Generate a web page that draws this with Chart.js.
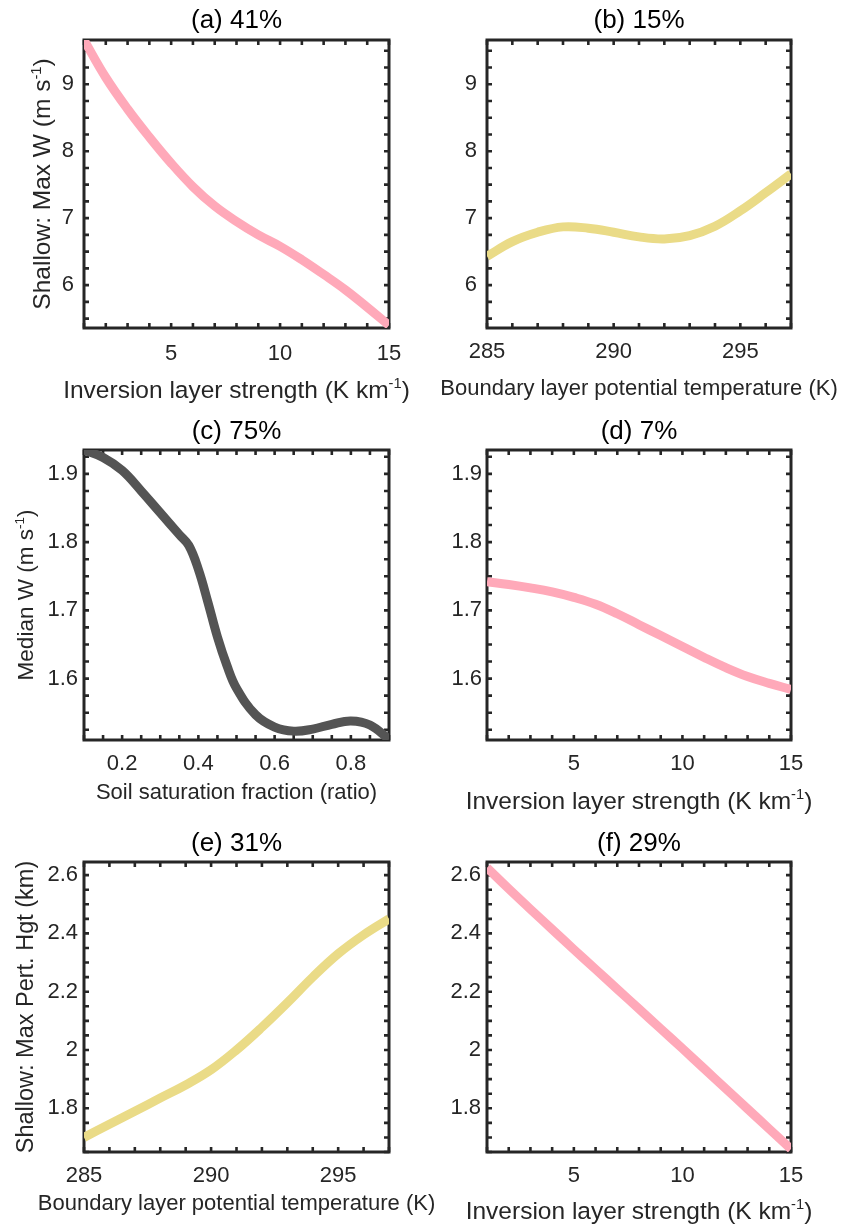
<!DOCTYPE html>
<html>
<head>
<meta charset="utf-8">
<script src="https://cdn.jsdelivr.net/npm/chart.js@4.4.1/dist/chart.umd.min.js"></script>
<style>
  body { margin: 0; background: #fff; }
  #wrap { position: relative; width: 845px; height: 1224px; overflow: hidden; }
  canvas { position: absolute; }
</style>
</head>
<body>
<div id="wrap">
  <canvas id="pa" width="445" height="410" style="left:0;top:0"></canvas>
  <canvas id="pb" width="425" height="410" style="left:420px;top:0"></canvas>
  <canvas id="pc" width="445" height="410" style="left:0;top:410px"></canvas>
  <canvas id="pd" width="425" height="410" style="left:420px;top:410px"></canvas>
  <canvas id="pe" width="445" height="404" style="left:0;top:820px"></canvas>
  <canvas id="pf" width="425" height="404" style="left:420px;top:820px"></canvas>
</div>
<script>
// x values
const inversion = [1, 2, 3, 4, 5, 6, 7, 8, 9, 10, 11, 12, 13, 14, 15];
const thetaBL = [285, 286, 287, 288, 289, 290, 291, 292, 293, 294, 295, 296, 297];
const soilSat = [0.1, 0.15, 0.2, 0.25, 0.3, 0.35, 0.375, 0.4, 0.425, 0.45, 0.475, 0.5, 0.55, 0.6, 0.65, 0.7, 0.75, 0.8, 0.85, 0.9];

// series
const maxW_inv = [9.66, 9.10, 8.63, 8.21, 7.82, 7.47, 7.18, 6.95, 6.75, 6.58, 6.38, 6.16, 5.93, 5.67, 5.40];
const maxW_theta = [6.43, 6.65, 6.79, 6.87, 6.85, 6.79, 6.72, 6.69, 6.74, 6.88, 7.11, 7.38, 7.66];
const medW_soil = [1.935, 1.924, 1.905, 1.875, 1.843, 1.811, 1.795, 1.760, 1.712, 1.661, 1.619, 1.586, 1.547, 1.529, 1.523, 1.526, 1.533, 1.538, 1.532, 1.511];
const medW_inv = [1.742, 1.738, 1.733, 1.727, 1.719, 1.709, 1.695, 1.679, 1.663, 1.647, 1.631, 1.616, 1.603, 1.593, 1.584];
const hgt_theta = [1.70, 1.745, 1.79, 1.835, 1.88, 1.932, 2.00, 2.078, 2.162, 2.25, 2.33, 2.395, 2.45];
const hgt_inv = [2.625, 2.553, 2.483, 2.414, 2.345, 2.277, 2.209, 2.141, 2.073, 2.005, 1.936, 1.867, 1.798, 1.729, 1.660];

// tick labels
const invTicks = [5, 10, 15];
const thetaTicks = [285, 290, 295];
const soilTicks = [0.2, 0.4, 0.6, 0.8];
const maxWTicks = [6, 7, 8, 9];
const medWTicks = [1.6, 1.7, 1.8, 1.9];
const hgtTicks = [1.8, 2, 2.2, 2.4, 2.6];

const titles = ['(a) 41%', '(b) 15%', '(c) 75%', '(d) 7%', '(e) 31%', '(f) 29%'];
const invLabel = 'Inversion layer strength (K km^{-1})';
const thetaLabel = 'Boundary layer potential temperature (K)';
const soilLabel = 'Soil saturation fraction (ratio)';

const PINK = '#FFA9B9';
const YELLOW = '#EADB87';
const GREY = '#545454';
const INK = '#262626';
const FONT = '"Liberation Sans", Arial, Helvetica, sans-serif';

// box around the axes with inward minor ticks
const boxPlugin = {
  id: 'box',
  beforeDatasetsDraw(chart, args, opts) {
    const { ctx, chartArea: a, scales } = chart;
    ctx.save();
    ctx.strokeStyle = INK;
    ctx.lineWidth = 2.6;
    const tick = (scale, step, len, horiz) => {
      const start = Math.ceil(scale.min / step - 1e-6) * step;
      for (let v = start; v <= scale.max + 1e-9; v += step) {
        const p = scale.getPixelForValue(v);
        ctx.beginPath();
        if (horiz) {
          ctx.moveTo(p, a.bottom); ctx.lineTo(p, a.bottom - len);
          ctx.moveTo(p, a.top); ctx.lineTo(p, a.top + len);
        } else {
          ctx.moveTo(a.left, p); ctx.lineTo(a.left + len, p);
          ctx.moveTo(a.right, p); ctx.lineTo(a.right - len, p);
        }
        ctx.stroke();
      }
    };
    tick(scales.x, opts.xMinor, 5, true);
    tick(scales.y, opts.yMinor, 5, false);
    ctx.lineWidth = 3;
    ctx.strokeRect(a.left, a.top, a.right - a.left, a.bottom - a.top);
    ctx.restore();
  }
};

// text with ^{...} superscripts, centred on (cx, cy)
function drawRich(ctx, text, cx, cy, size, rot) {
  const parts = text.split(/\^\{([^}]*)\}/);
  const fN = size + 'px ' + FONT, fS = (size * 0.6) + 'px ' + FONT;
  let total = 0;
  parts.forEach((t, i) => { ctx.font = i % 2 ? fS : fN; total += ctx.measureText(t).width; });
  ctx.save();
  ctx.translate(cx, cy);
  ctx.rotate(rot);
  ctx.textAlign = 'left';
  ctx.textBaseline = 'alphabetic';
  let x = -total / 2;
  const base = size * 0.36;
  parts.forEach((t, i) => {
    ctx.font = i % 2 ? fS : fN;
    ctx.fillText(t, x, i % 2 ? base - size * 0.4 : base);
    x += ctx.measureText(t).width;
  });
  ctx.restore();
}

const labelPlugin = {
  id: 'axisLabels',
  afterDraw(chart, args, o) {
    const { ctx, chartArea: a } = chart;
    ctx.save();
    ctx.fillStyle = INK;
    if (o.xText) drawRich(ctx, o.xText, (a.left + a.right) / 2, chart.height - o.xOff, o.xSize, 0);
    if (o.yText) drawRich(ctx, o.yText, o.yPos, (a.top + a.bottom) / 2, o.ySize, -Math.PI / 2);
    ctx.restore();
  }
};

function makePanel(id, p) {
  const canvas = document.getElementById(id);
  const W = canvas.width, H = canvas.height;
  const fmt = v => String(Math.round(v * 1000) / 1000);
  return new Chart(canvas, {
    type: 'line',
    data: {
      datasets: [{
        data: p.x.map((v, i) => ({ x: v, y: p.y[i] })),
        borderColor: p.color,
        borderWidth: 9,
        pointRadius: 0,
        tension: 0.4,
        borderJoinStyle: 'round',
        fill: false
      }]
    },
    options: {
      responsive: false,
      animation: false,
      events: [],
      layout: { padding: { left: 0, top: 0, bottom: 0, right: W - p.area.right } },
      plugins: {
        legend: { display: false },
        tooltip: { enabled: false },
        title: {
          display: true,
          text: p.title,
          fullSize: false,
          color: '#000',
          font: { family: FONT, size: 26, weight: 'normal', lineHeight: 1.2 },
          padding: { top: p.titleY - 15.6, bottom: p.area.top - p.titleY - 15.6 }
        },
        box: { xMinor: p.xMinor, yMinor: p.yMinor },
        axisLabels: { xText: p.xLabel, xSize: p.xLabelSize, xOff: p.xLabelOff, yText: p.yLabel, ySize: p.yLabelSize, yPos: p.yLabelX }
      },
      scales: {
        x: {
          type: 'linear',
          min: p.xMin, max: p.xMax,
          afterBuildTicks: s => { s.ticks = p.xTicks.map(v => ({ value: v })); },
          afterFit: s => { s.height = H - p.area.bottom; },
          grid: { display: false, drawTicks: false },
          border: { display: false },
          ticks: { padding: p.xPad, color: INK, font: { family: FONT, size: 22 }, maxRotation: 0, autoSkip: false, callback: fmt }
        },
        y: {
          type: 'linear',
          min: p.yMin, max: p.yMax,
          afterBuildTicks: s => { s.ticks = p.yTicks.map(v => ({ value: v })); },
          afterFit: s => { s.width = p.area.left; },
          grid: { display: false, drawTicks: false },
          border: { display: false },
          ticks: { padding: p.yPad, color: INK, font: { family: FONT, size: 22 }, autoSkip: false, callback: fmt }
        }
      }
    },
    plugins: [boxPlugin, labelPlugin]
  });
}

const colL = { left: 84, right: 389 };
const colR = { left: 487 - 420, right: 791 - 420 };

makePanel('pa', {
  x: inversion, y: maxW_inv, color: PINK, title: titles[0], titleY: 21,
  area: { ...colL, top: 40, bottom: 328 },
  xMin: 1, xMax: 15, xTicks: invTicks, xMinor: 1, xPad: 13,
  yMin: 5.36, yMax: 9.66, yTicks: maxWTicks, yMinor: 0.25, yPad: 10,
  xLabel: invLabel, xLabelSize: 24.5, xLabelOff: 21,
  yLabel: 'Shallow: Max W (m s^{-1})', yLabelSize: 24.5, yLabelX: 41.5
});
makePanel('pb', {
  x: thetaBL, y: maxW_theta, color: YELLOW, title: titles[1], titleY: 21,
  area: { ...colR, top: 40, bottom: 328 },
  xMin: 285, xMax: 297, xTicks: thetaTicks, xMinor: 1, xPad: 11,
  yMin: 5.36, yMax: 9.66, yTicks: maxWTicks, yMinor: 0.25, yPad: 10,
  xLabel: thetaLabel, xLabelSize: 22, xLabelOff: 23
});
makePanel('pc', {
  x: soilSat, y: medW_soil, color: GREY, title: titles[2], titleY: 22,
  area: { ...colL, top: 40, bottom: 330 },
  xMin: 0.1, xMax: 0.9, xTicks: soilTicks, xMinor: 0.05, xPad: 11,
  yMin: 1.51, yMax: 1.935, yTicks: medWTicks, yMinor: 0.025, yPad: 6,
  xLabel: soilLabel, xLabelSize: 22, xLabelOff: 29,
  yLabel: 'Median W (m s^{-1})', yLabelSize: 22.5, yLabelX: 25
});
makePanel('pd', {
  x: inversion, y: medW_inv, color: PINK, title: titles[3], titleY: 22,
  area: { ...colR, top: 40, bottom: 330 },
  xMin: 1, xMax: 15, xTicks: invTicks, xMinor: 1, xPad: 11,
  yMin: 1.51, yMax: 1.935, yTicks: medWTicks, yMinor: 0.025, yPad: 5,
  xLabel: invLabel, xLabelSize: 24.5, xLabelOff: 20
});
makePanel('pe', {
  x: thetaBL, y: hgt_theta, color: YELLOW, title: titles[4], titleY: 23.5,
  area: { ...colL, top: 42, bottom: 332 },
  xMin: 285, xMax: 297, xTicks: thetaTicks, xMinor: 1, xPad: 11,
  yMin: 1.65, yMax: 2.645, yTicks: hgtTicks, yMinor: 0.05, yPad: 6,
  xLabel: thetaLabel, xLabelSize: 22, xLabelOff: 22,
  yLabel: 'Shallow: Max Pert. Hgt (km)', yLabelSize: 23.5, yLabelX: 25
});
makePanel('pf', {
  x: inversion, y: hgt_inv, color: PINK, title: titles[5], titleY: 23.5,
  area: { ...colR, top: 42, bottom: 332 },
  xMin: 1, xMax: 15, xTicks: invTicks, xMinor: 1, xPad: 11,
  yMin: 1.65, yMax: 2.645, yTicks: hgtTicks, yMinor: 0.05, yPad: 6,
  xLabel: invLabel, xLabelSize: 24.5, xLabelOff: 14
});
</script>
</body>
</html>
